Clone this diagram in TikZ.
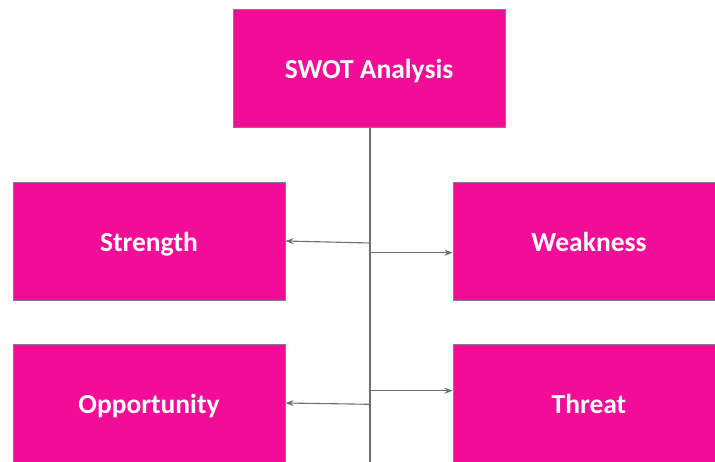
\documentclass[tikz,border=0pt]{standalone}
\usepackage{fontspec}
\setmainfont{Carlito}
\usetikzlibrary{arrows.meta}
\definecolor{pinkfill}{HTML}{F20C98}
\definecolor{boxline}{HTML}{7F7F7F}
\definecolor{conn}{HTML}{6E6E6E}
\tikzset{
  box/.style={draw=boxline, line width=1pt, fill=pinkfill, minimum width=272pt, minimum height=118pt,
    inner sep=0pt, text height=20pt, text depth=0pt, text=white,
    font=\bfseries\fontsize{27.5}{32}\selectfont},
  conline/.style={draw=conn, line width=1.1pt},
  arr/.style={conline, -{Stealth[length=8pt,width=6pt]}}
}
\begin{document}
\begin{tikzpicture}[x=1pt,y=-1pt]
\useasboundingbox (0,0) rectangle (715,461);
\node[box] (swot) at (369,68) {SWOT Analysis};
\node[box] (strength) at (149,241) {Strength};
\node[box] (weakness) at (589,241) {Weakness};
\node[box] (opportunity) at (149,403) {Opportunity};
\node[box] (threat) at (589,403) {Threat};
\coordinate (bottom) at (370,475);
\coordinate (st) at (371,243);
\coordinate (wk) at (371,252.7);
\coordinate (th) at (371,390.7);
\coordinate (op) at (371,404.3);
\draw[conline] (swot.south -| bottom) -- (bottom);
\draw[arr] (st) -- (strength.east);
\draw[arr] (wk) -- (wk -| weakness.west);
\draw[arr] (th) -- (th -| threat.west);
\draw[arr] (op) -- (opportunity.east);
\end{tikzpicture}
\end{document}
